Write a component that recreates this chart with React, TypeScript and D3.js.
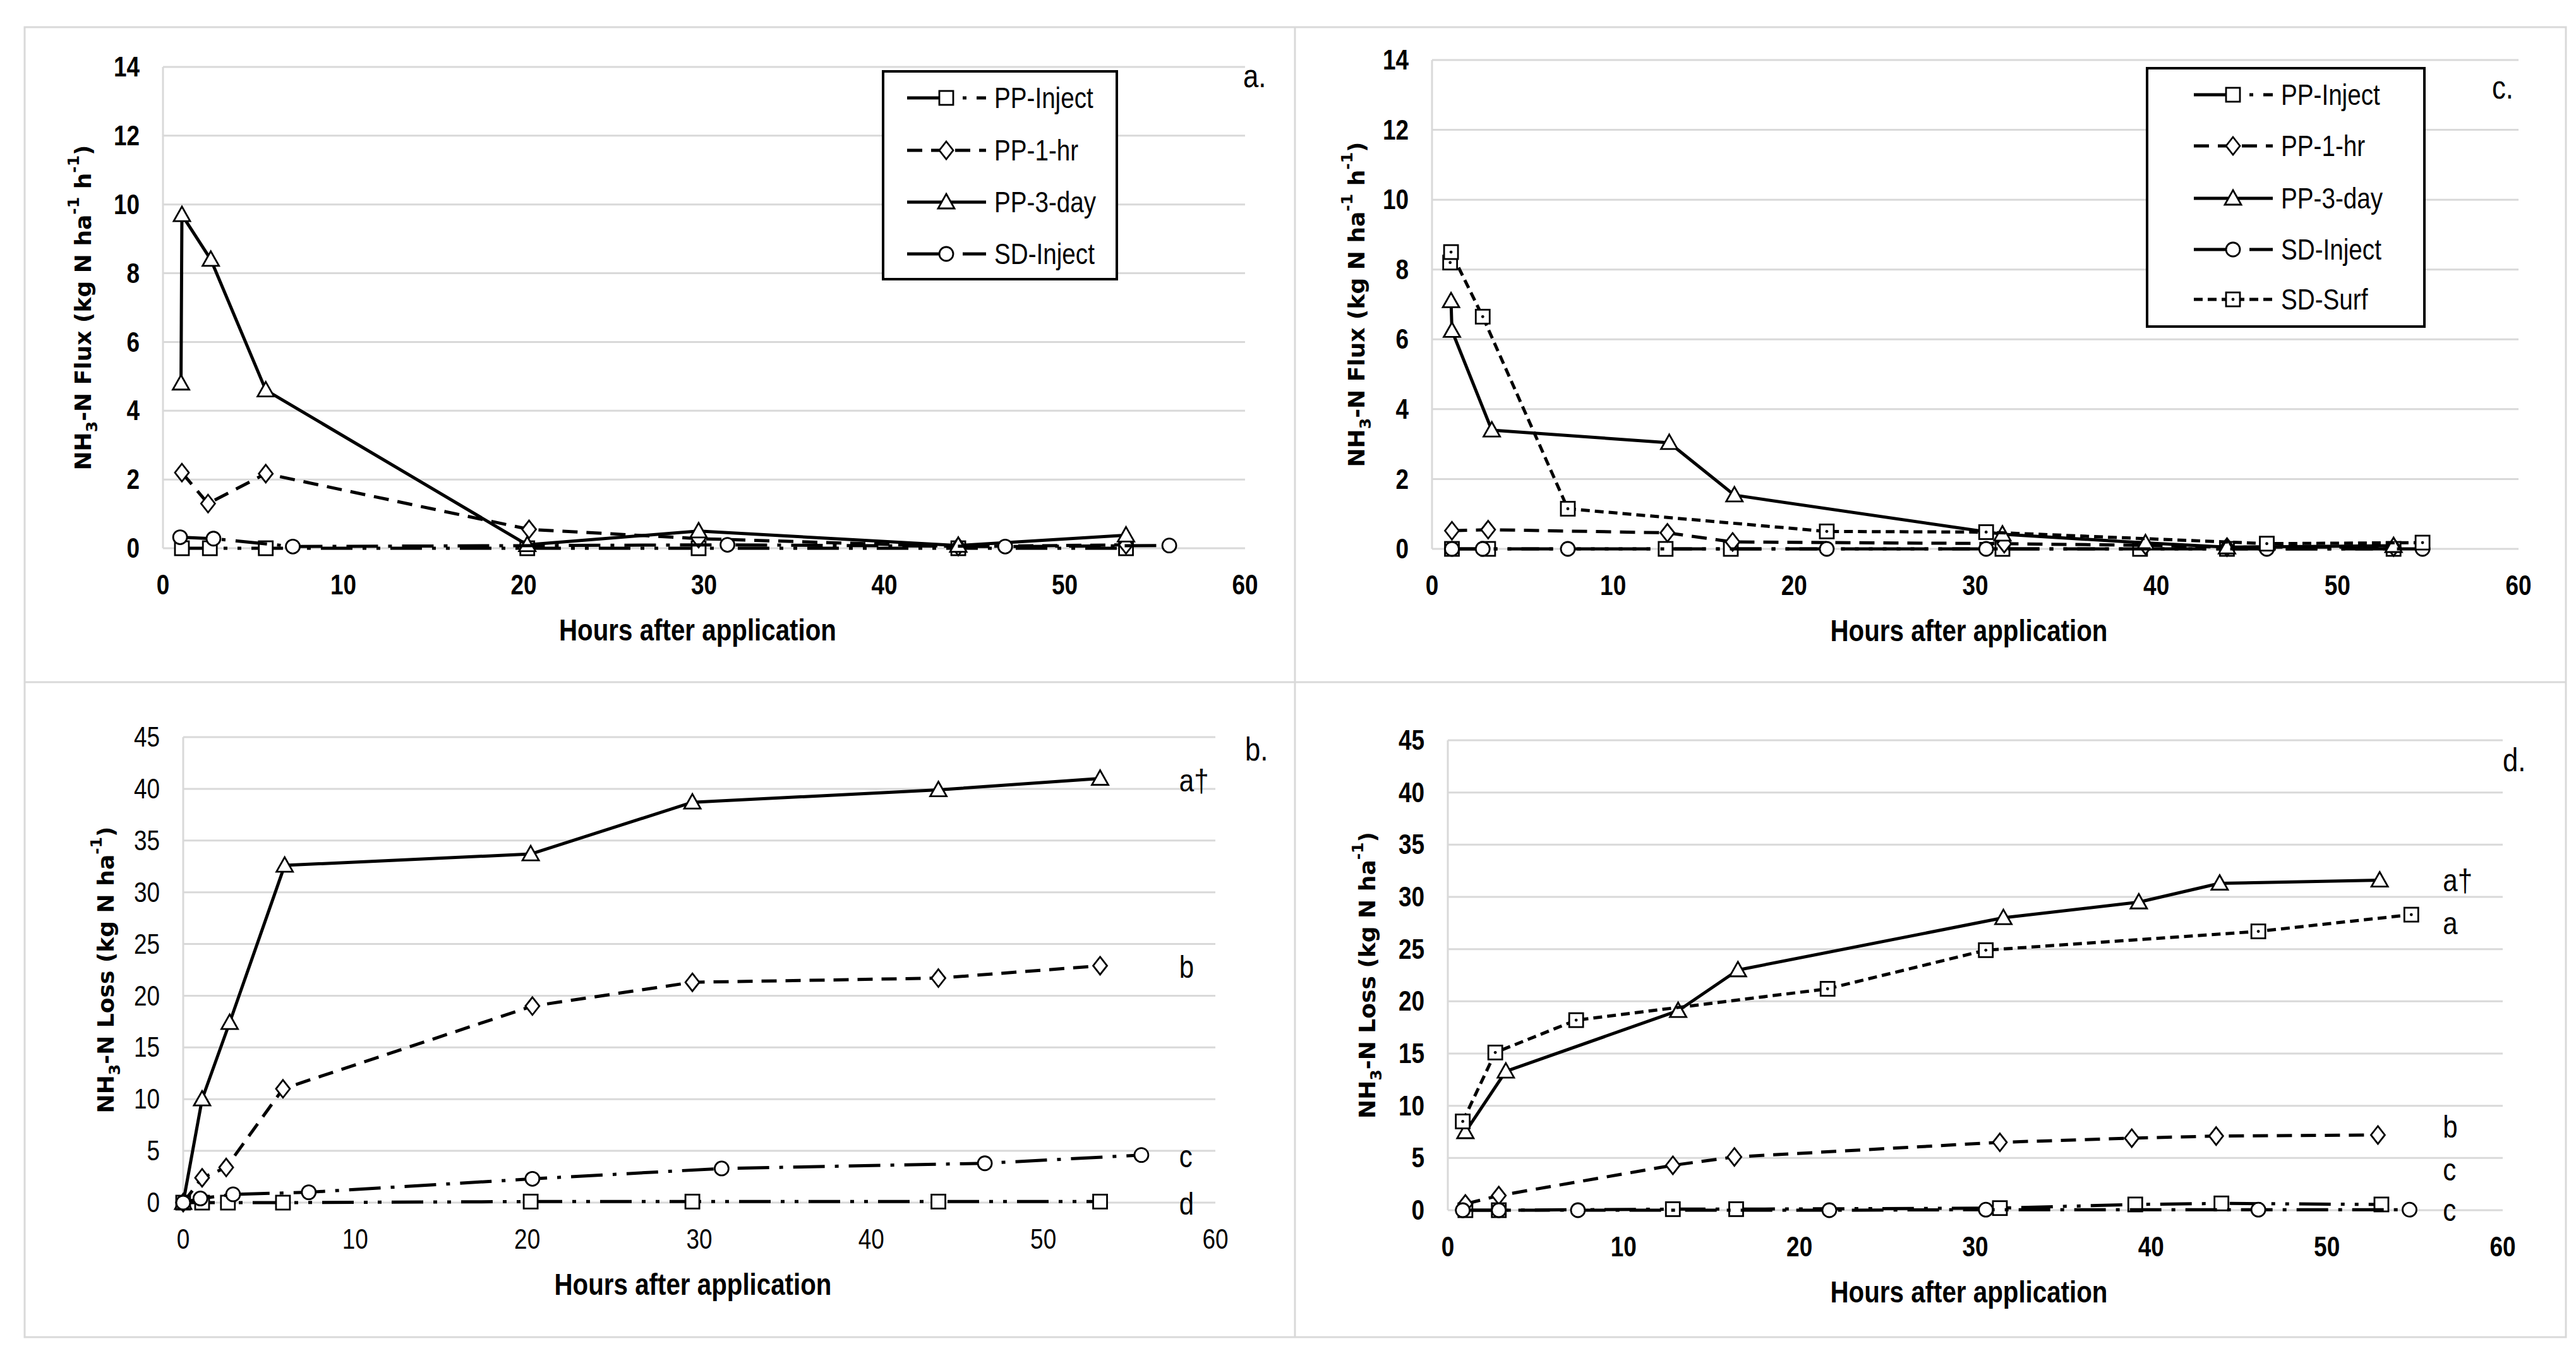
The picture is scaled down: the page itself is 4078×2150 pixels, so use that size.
import * as d3 from "d3";
import React from "react";

type Pt = [number, number];

// ---- data: [hours after application, value] ----
// a. NH3-N flux, PP treatments + SD-Inject
const fluxA_PPInject: Pt[] = [[1.05, 0], [2.6, 0], [5.7, 0], [20.2, 0], [29.7, 0], [44.1, 0], [53.4, 0]];
const fluxA_PP1hr: Pt[] = [[1.05, 2.2], [2.5, 1.3], [5.7, 2.17], [20.3, 0.55], [29.7, 0.28], [44.1, 0.05], [53.4, 0.1]];
const fluxA_PP3day: Pt[] = [[1.0, 4.8], [1.05, 9.7], [2.65, 8.4], [5.7, 4.6], [20.2, 0.1], [29.7, 0.5], [44.1, 0.08], [53.4, 0.38]];
const fluxA_SDInject: Pt[] = [[0.95, 0.32], [2.8, 0.28], [7.2, 0.05], [31.3, 0.1], [46.7, 0.05], [55.8, 0.08]];

// c. NH3-N flux, second site
const fluxC_PPInject: Pt[] = [[1.1, 0], [3.1, 0], [12.9, 0], [16.5, 0], [31.5, 0], [39.1, 0], [43.9, 0], [53.1, 0]];
const fluxC_PP1hr: Pt[] = [[1.1, 0.52], [3.1, 0.55], [13.0, 0.46], [16.6, 0.2], [31.6, 0.15], [39.4, 0.1], [43.9, 0.05], [53.1, 0.05]];
const fluxC_PP3day: Pt[] = [[1.05, 7.1], [1.1, 6.25], [3.3, 3.4], [13.1, 3.04], [16.7, 1.54], [31.5, 0.42], [39.4, 0.17], [43.9, 0.05], [53.1, 0.09]];
const fluxC_SDInject: Pt[] = [[1.1, 0], [2.8, 0], [7.5, 0], [21.8, 0], [30.6, 0], [46.1, 0], [54.7, 0]];
const fluxC_SDSurf: Pt[] = [[1.0, 8.2], [1.05, 8.5], [2.8, 6.65], [7.5, 1.15], [21.8, 0.5], [30.6, 0.48], [46.1, 0.15], [54.7, 0.18]];

// b. cumulative NH3-N loss
const lossB_PPInject: Pt[] = [[0, 0], [1.1, 0], [2.6, 0], [5.8, 0], [20.2, 0.1], [29.6, 0.1], [43.9, 0.1], [53.3, 0.1]];
const lossB_PP1hr: Pt[] = [[0, 0], [1.1, 2.4], [2.5, 3.4], [5.8, 11.0], [20.3, 19.0], [29.6, 21.3], [43.9, 21.7], [53.3, 22.9]];
const lossB_PP3day: Pt[] = [[0, 0], [1.1, 10.0], [2.7, 17.4], [5.9, 32.6], [20.2, 33.7], [29.6, 38.7], [43.9, 39.9], [53.3, 41.0]];
const lossB_SDInject: Pt[] = [[0, 0], [1.0, 0.4], [2.9, 0.8], [7.3, 1.0], [20.3, 2.3], [31.3, 3.3], [46.6, 3.8], [55.7, 4.6]];

// d. cumulative NH3-N loss, second site
const lossD_PPInject: Pt[] = [[1.0, 0], [2.9, 0], [12.8, 0.1], [16.4, 0.1], [31.4, 0.2], [39.1, 0.55], [44.0, 0.65], [53.1, 0.55]];
const lossD_PP1hr: Pt[] = [[1.0, 0.6], [2.9, 1.4], [12.8, 4.3], [16.3, 5.1], [31.4, 6.5], [38.9, 6.9], [43.7, 7.1], [52.9, 7.2]];
const lossD_PP3day: Pt[] = [[1.0, 7.5], [3.3, 13.3], [13.1, 19.1], [16.5, 23.0], [31.6, 28.0], [39.3, 29.5], [43.9, 31.3], [53.0, 31.6]];
const lossD_SDInject: Pt[] = [[0.85, 0], [2.9, 0], [7.4, 0], [21.7, 0], [30.6, 0.05], [46.1, 0.05], [54.7, 0.05]];
const lossD_SDSurf: Pt[] = [[0.85, 8.5], [2.7, 15.1], [7.3, 18.2], [21.6, 21.2], [30.6, 24.9], [46.1, 26.7], [54.8, 28.3]];

// significance letters at the end of the cumulative curves
const lettersB = ["a\u2020", "b", "c", "d"];
const lettersBAt = [40.8, 22.8, 4.5, -0.1];
const lettersD = ["a\u2020", "a", "b", "c", "c"];
const lettersDAt = [31.6, 27.5, 8.0, 3.9, 0];

const xTicks = [0, 10, 20, 30, 40, 50, 60];
const fluxTicks = [0, 2, 4, 6, 8, 10, 12, 14];
const lossTicks = [0, 5, 10, 15, 20, 25, 30, 35, 40, 45];

// ---- look ----
const NARROW = "'Liberation Sans', Arial, sans-serif";
const WIDE = "'DejaVu Sans', Verdana, sans-serif";
const GRID = "#d9d9d9";
const SQUEEZE = 0.84; // the original used a condensed (Calibri-like) face

const styles = {
    "PP-Inject": { dash: "50 16 6 16 6 16", marker: "square" },
    "PP-1-hr": { dash: "24 14", marker: "diamond" },
    "PP-3-day": { dash: undefined, marker: "triangle" },
    "SD-Inject": { dash: "50 16 6 16", marker: "circle" },
    "SD-Surf": { dash: "14 8", marker: "squareDot" },
};

// horizontally condensed text
function NText({ x, y, anchor = "start", size, weight = "normal", children }) {
    return (
        <text transform={`translate(${x},${y}) scale(${SQUEEZE},1)`} textAnchor={anchor}
            dominantBaseline="central" fontFamily={NARROW} fontSize={size} fontWeight={weight}>
            {children}
        </text>
    );
}

function Marker({ type, x, y }) {
    const common = { fill: "white", stroke: "black", strokeWidth: 2.8 };
    if (type === "square" || type === "squareDot")
        return (
            <g>
                <rect x={x - 11} y={y - 11} width={22} height={22} {...common} />
                {type === "squareDot" && <circle cx={x} cy={y} r={2.4} fill="black" />}
            </g>
        );
    if (type === "diamond")
        return <path d={`M${x},${y - 14}L${x + 11},${y}L${x},${y + 14}L${x - 11},${y}Z`} {...common} />;
    if (type === "triangle")
        return <path d={`M${x},${y - 13}L${x + 13},${y + 10}L${x - 13},${y + 10}Z`} {...common} />;
    return <circle cx={x} cy={y} r={11} {...common} />;
}

function Panel({ p }) {
    const x = d3.scaleLinear().domain([0, 60]).range([p.left, p.right]);
    const y = d3.scaleLinear().domain([0, p.yMax]).range([p.bottom, p.top]);
    const line = d3.line<Pt>().x((d) => x(d[0])).y((d) => y(d[1]));
    const midY = (p.top + p.bottom) / 2;
    const tickWeight = p.boldTicks ? "bold" : "normal";

    return (
        <g>
            {p.yTicks.map((t) => (
                <g key={t}>
                    <line x1={p.left} x2={p.right} y1={y(t)} y2={y(t)} stroke={GRID} strokeWidth={3} />
                    <NText x={p.left - 37} y={y(t)} anchor="end" size={44} weight={tickWeight}>{t}</NText>
                </g>
            ))}
            <line x1={p.left} x2={p.left} y1={p.top} y2={p.bottom} stroke={GRID} strokeWidth={3} />
            {xTicks.map((t) => (
                <NText key={t} x={x(t)} y={p.bottom + 58} anchor="middle" size={44} weight={tickWeight}>{t}</NText>
            ))}
            <NText x={(p.left + p.right) / 2 - 10} y={p.bottom + 129} anchor="middle" size={48} weight="bold">
                Hours after application
            </NText>
            <text transform={`translate(${p.left + p.titleDx},${midY}) rotate(-90)`} textAnchor="middle"
                dominantBaseline="central" fontFamily={WIDE} fontSize={36} fontWeight="bold">
                NH<tspan baselineShift="sub" fontSize={25}>3</tspan>-N {p.quantity} (kg N ha
                <tspan baselineShift="super" fontSize={25}>-1</tspan>
                {p.perHour ? <tspan baselineShift="baseline"> h</tspan> : null}
                {p.perHour ? <tspan baselineShift="super" fontSize={25}>-1</tspan> : null}
                <tspan baselineShift="baseline">)</tspan>
            </text>

            {p.series.map((s) => {
                const st = styles[s.name];
                return (
                    <g key={s.name}>
                        <path d={line(s.values)} fill="none" stroke="black" strokeWidth={5}
                            strokeDasharray={st.dash} strokeLinejoin="round" />
                        {s.values.map((d, i) => (
                            <Marker key={i} type={st.marker} x={x(d[0])} y={y(d[1])} />
                        ))}
                    </g>
                );
            })}

            {p.letters &&
                p.letters.map((l, i) => (
                    <NText key={i} x={x(p.letterX)} y={y(p.lettersAt[i])} size={50}>{l}</NText>
                ))}

            <NText x={p.tagX} y={p.tagY} size={52}>{p.tag}</NText>

            {p.legend && (
                <g>
                    <rect x={p.legend.x0} y={p.legend.y0} width={p.legend.x1 - p.legend.x0}
                        height={p.legend.y1 - p.legend.y0} fill="white" stroke="black" strokeWidth={4} />
                    {p.series.map((s, i) => {
                        const st = styles[s.name];
                        const ry = p.legend.rows[i];
                        const lx0 = p.legend.lineX;
                        const lx1 = lx0 + 125;
                        return (
                            <g key={s.name}>
                                <line x1={lx0} x2={lx1} y1={ry} y2={ry} stroke="black" strokeWidth={5}
                                    strokeDasharray={st.dash} />
                                <Marker type={st.marker} x={lx0 + 62} y={ry} />
                                <NText x={lx1 + 13} y={ry} size={46}>{s.name}</NText>
                            </g>
                        );
                    })}
                </g>
            )}
        </g>
    );
}

const panels = [
    {
        tag: "a.", tagX: 1968, tagY: 120,
        left: 258, right: 1971, top: 106, bottom: 868, titleDx: -127,
        yMax: 14, yTicks: fluxTicks, quantity: "Flux", perHour: true, boldTicks: true,
        series: [
            { name: "PP-Inject", values: fluxA_PPInject },
            { name: "PP-1-hr", values: fluxA_PP1hr },
            { name: "PP-3-day", values: fluxA_PP3day },
            { name: "SD-Inject", values: fluxA_SDInject },
        ],
        legend: { x0: 1398, y0: 113, x1: 1768, y1: 442, rows: [155, 238, 320, 402], lineX: 1436 },
    },
    {
        tag: "c.", tagX: 3945, tagY: 138,
        left: 2267, right: 3987, top: 95, bottom: 869, titleDx: -120,
        yMax: 14, yTicks: fluxTicks, quantity: "Flux", perHour: true, boldTicks: true,
        series: [
            { name: "PP-Inject", values: fluxC_PPInject },
            { name: "PP-1-hr", values: fluxC_PP1hr },
            { name: "PP-3-day", values: fluxC_PP3day },
            { name: "SD-Inject", values: fluxC_SDInject },
            { name: "SD-Surf", values: fluxC_SDSurf },
        ],
        legend: { x0: 3399, y0: 108, x1: 3838, y1: 517, rows: [150, 231, 314, 395, 474], lineX: 3473 },
    },
    {
        tag: "b.", tagX: 1971, tagY: 1186,
        left: 290, right: 1924, top: 1167, bottom: 1904, titleDx: -123,
        yMax: 45, yTicks: lossTicks, quantity: "Loss", perHour: false, boldTicks: false,
        series: [
            { name: "PP-Inject", values: lossB_PPInject },
            { name: "PP-1-hr", values: lossB_PP1hr },
            { name: "PP-3-day", values: lossB_PP3day },
            { name: "SD-Inject", values: lossB_SDInject },
        ],
        letters: lettersB, lettersAt: lettersBAt, letterX: 57.9,
    },
    {
        tag: "d.", tagX: 3962, tagY: 1203,
        left: 2292, right: 3962, top: 1172, bottom: 1916, titleDx: -128,
        yMax: 45, yTicks: lossTicks, quantity: "Loss", perHour: false, boldTicks: true,
        series: [
            { name: "PP-Inject", values: lossD_PPInject },
            { name: "PP-1-hr", values: lossD_PP1hr },
            { name: "PP-3-day", values: lossD_PP3day },
            { name: "SD-Inject", values: lossD_SDInject },
            { name: "SD-Surf", values: lossD_SDSurf },
        ],
        letters: lettersD, lettersAt: lettersDAt, letterX: 56.6,
    },
];

export default function App() {
    return (
        <svg width={4078} height={2150} style={{ position: "absolute", left: 0, top: 0, background: "white" }}>
            <rect x={0} y={0} width={4078} height={2150} fill="white" />
            <rect x={39} y={43} width={4023} height={2074} fill="none" stroke={GRID} strokeWidth={3} />
            <line x1={2050} x2={2050} y1={43} y2={2117} stroke={GRID} strokeWidth={3} />
            <line x1={39} x2={4062} y1={1080} y2={1080} stroke={GRID} strokeWidth={3} />
            {panels.map((p) => (
                <Panel key={p.tag} p={p} />
            ))}
        </svg>
    );
}
